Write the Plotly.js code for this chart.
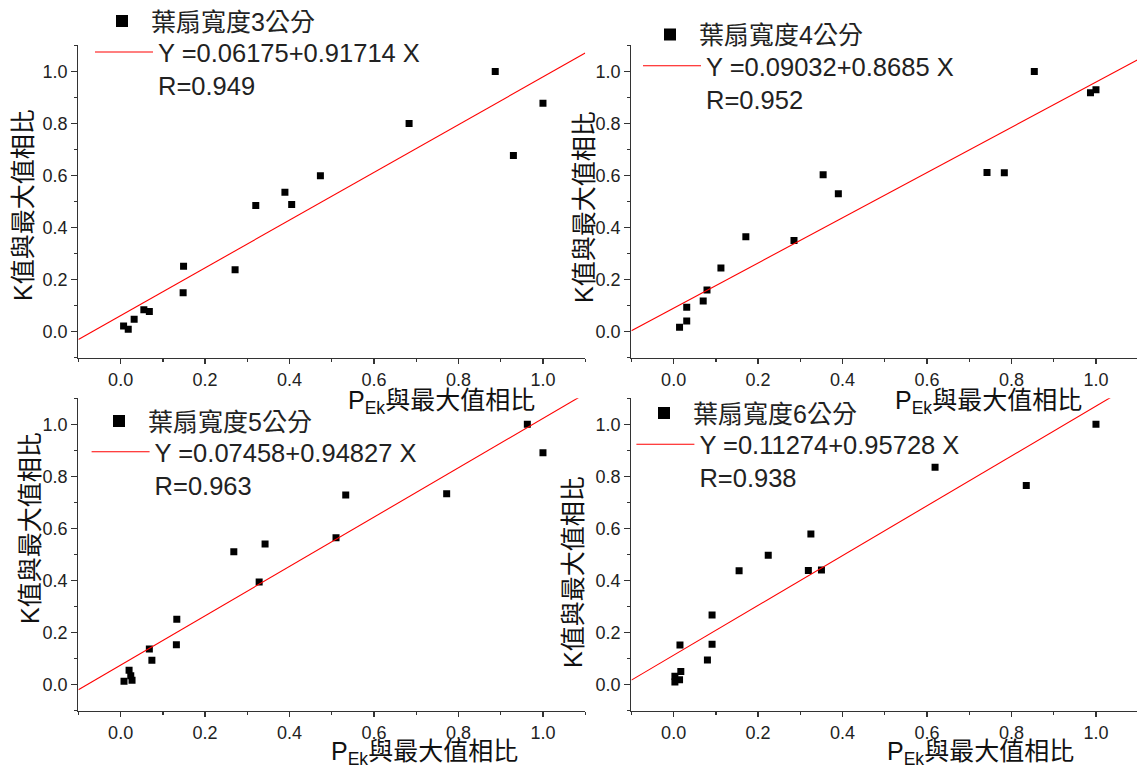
<!DOCTYPE html>
<html>
<head>
<meta charset="utf-8">
<script src="https://cdn.plot.ly/plotly-3.0.1.min.js"></script>
<style>html,body{margin:0;padding:0;background:#fff;overflow:hidden}#chart{width:1137px;height:773px}</style>
</head>
<body>
<div id="chart"></div>
<script>
// ---- data ----
const seriesNames = ['葉扇寬度3公分', '葉扇寬度4公分', '葉扇寬度5公分', '葉扇寬度6公分'];
const fitIntercepts = [0.06175, 0.09032, 0.07458, 0.11274];
const fitSlopes = [0.91714, 0.8685, 0.94827, 0.95728];
const fitR = [0.949, 0.952, 0.963, 0.938];

const w3X = [0.007, 0.018, 0.032, 0.055, 0.068, 0.148, 0.149, 0.271, 0.320, 0.389, 0.405, 0.473, 0.683, 0.887, 0.930, 1.000];
const w3Y = [0.022, 0.009, 0.048, 0.084, 0.078, 0.150, 0.251, 0.238, 0.485, 0.536, 0.489, 0.599, 0.800, 1.000, 0.677, 0.878];

const w4X = [0.014, 0.031, 0.031, 0.070, 0.079, 0.112, 0.171, 0.285, 0.354, 0.390, 0.742, 0.783, 0.854, 0.987, 1.000];
const w4Y = [0.017, 0.041, 0.094, 0.118, 0.160, 0.245, 0.365, 0.350, 0.603, 0.530, 0.612, 0.611, 1.000, 0.918, 0.930];

const w5X = [0.008, 0.027, 0.024, 0.020, 0.068, 0.074, 0.132, 0.133, 0.268, 0.328, 0.342, 0.510, 0.533, 0.772, 0.963, 1.000];
const w5Y = [0.013, 0.017, 0.034, 0.055, 0.137, 0.093, 0.153, 0.251, 0.510, 0.394, 0.540, 0.564, 0.728, 0.733, 1.000, 0.891];

const w6X = [0.003, 0.003, 0.014, 0.017, 0.015, 0.080, 0.091, 0.091, 0.155, 0.224, 0.319, 0.325, 0.350, 0.619, 0.835, 1.000];
const w6Y = [0.010, 0.032, 0.019, 0.050, 0.152, 0.094, 0.155, 0.267, 0.437, 0.497, 0.438, 0.579, 0.440, 0.835, 0.765, 1.000];

const fitXRange = [-0.1, 1.1];
const yTitle = 'K值與最大值相比';
const xTitle = 'P<sub>Ek</sub>與最大值相比';

// ---- layout helpers ----
const W = 1137, H = 773;
const FONT = '"Liberation Sans", Arial, "Noto Sans CJK TC", sans-serif';
const AXC = '#333';

const allX = [w3X, w4X, w5X, w6X];
const allY = [w3Y, w4Y, w5Y, w6Y];

const px = v => v / W;
const py = v => 1 - v / H;

function xAxis(d0, d1, r1, anchor) {
  return {
    domain: [px(d0), px(d1)], range: [-0.1, r1], anchor: anchor,
    showline: true, linecolor: AXC, linewidth: 1.3,
    ticks: 'outside', ticklen: 5, tickwidth: 1.3, tickcolor: AXC,
    tick0: 0, dtick: 0.2, tickformat: '.1f',
    minor: {dtick: 0.1, tick0: 0, ticks: 'outside', ticklen: 3, tickwidth: 1.3, tickcolor: AXC, showgrid: false},
    showgrid: false, zeroline: false, fixedrange: true,
    tickfont: {family: FONT, size: 18, color: '#222'}
  };
}
function yAxis(top, bottom, anchor) {
  return {
    domain: [py(bottom), py(top)], range: [-0.1, 1.1], anchor: anchor,
    showline: true, linecolor: AXC, linewidth: 1.3,
    ticks: 'outside', ticklen: 6, tickwidth: 1.3, tickcolor: AXC,
    tick0: 0, dtick: 0.2, tickformat: '.1f',
    minor: {dtick: 0.1, tick0: 0, ticks: 'outside', ticklen: 3, tickwidth: 1.3, tickcolor: AXC, showgrid: false},
    showgrid: false, zeroline: false, fixedrange: true,
    tickfont: {family: FONT, size: 18, color: '#222'}
  };
}
// the symbol sits at the centre of the first text line: 5 + (1.3*fs*lines + 3)/2 - 1.3*fs*(lines-1)/2 below the top
function legendBox(left, firstLineCentre, itemW, sizing, fs, lines) {
  const lh = 1.3 * fs;
  const off = 5 + (lh * lines + 3) / 2 - lh * (lines - 1) / 2;
  return {
    x: px(left), y: py(firstLineCentre - off), xanchor: 'left', yanchor: 'top',
    bgcolor: 'rgba(0,0,0,0)', borderwidth: 0,
    font: {family: FONT, size: fs, color: '#222'},
    itemsizing: sizing, itemwidth: itemW, valign: 'top', tracegroupgap: 0,
    itemclick: false, itemdoubleclick: false
  };
}

const axisIds = [['x', 'y'], ['x2', 'y2'], ['x3', 'y3'], ['x4', 'y4']];

const traces = [];
for (let i = 0; i < 4; i++) {
  traces.push({
    type: 'scatter', mode: 'markers', x: allX[i], y: allY[i],
    xaxis: axisIds[i][0], yaxis: axisIds[i][1], legend: 'legend' + (i === 0 ? '' : 2 * i + 1),
    name: seriesNames[i],
    marker: {symbol: 'square', size: 7, color: '#000', line: {width: 0}},
    hoverinfo: 'skip'
  });
  traces.push({
    type: 'scatter', mode: 'lines', x: fitXRange,
    y: fitXRange.map(v => fitIntercepts[i] + fitSlopes[i] * v),
    xaxis: axisIds[i][0], yaxis: axisIds[i][1], legend: 'legend' + (2 * i + 2),
    name: 'Y =' + fitIntercepts[i] + '+' + fitSlopes[i] + ' X<br>R=' + fitR[i],
    line: {color: '#ff0000', width: 1.1},
    hoverinfo: 'skip'
  });
}

const L1 = 78.4, R1 = 585.2, L2 = 631.4, R2 = 1137;
const T1 = 45.4, B1 = 357.7, T2 = 398.3, B2 = 710.6;
const rightRange = -0.1 + 1.2 * (R2 - L2) / (R1 - L1);

function yTitleAnn(cx, cy) {
  return {text: yTitle, textangle: -90, x: px(cx), y: py(cy), xref: 'paper', yref: 'paper',
    xanchor: 'center', yanchor: 'middle', showarrow: false, font: {family: FONT, size: 25, color: '#111'}};
}
function xTitleAnn(lx, cy) {
  return {text: xTitle, x: px(lx), y: py(cy), xref: 'paper', yref: 'paper',
    xanchor: 'left', yanchor: 'middle', showarrow: false, font: {family: FONT, size: 25, color: '#111'}};
}

const layout = {
  width: W, height: H,
  margin: {l: 0, r: 0, t: 0, b: 0, pad: 0, autoexpand: false},
  paper_bgcolor: '#fff', plot_bgcolor: 'rgba(0,0,0,0)',
  showlegend: true, hovermode: false,
  font: {family: FONT, color: '#222'},
  xaxis: xAxis(L1, R1, 1.1, 'y'),
  yaxis: yAxis(T1, B1, 'x'),
  xaxis2: xAxis(L2, R2, rightRange, 'y2'),
  yaxis2: yAxis(T1, B1, 'x2'),
  xaxis3: xAxis(L1, R1, 1.1, 'y3'),
  yaxis3: yAxis(T2, B2, 'x3'),
  xaxis4: xAxis(L2, R2, rightRange, 'y4'),
  yaxis4: yAxis(T2, B2, 'x4'),
  // marker entries (constant symbol size) and fit-line entries (true line width)
  legend:  legendBox(93, 21, 48, 'constant', 25, 1),
  legend2: legendBox(90, 52, 58, 'trace', 25.5, 2),
  legend3: legendBox(641, 34.5, 48, 'constant', 25, 1),
  legend4: legendBox(638, 65.7, 58, 'trace', 25.5, 2),
  legend5: legendBox(90, 421, 48, 'constant', 25, 1),
  legend6: legendBox(86.6, 451.7, 58, 'trace', 25.5, 2),
  legend7: legendBox(635, 413, 48, 'constant', 25, 1),
  legend8: legendBox(631.4, 444.3, 58, 'trace', 25.5, 2),
  annotations: [
    yTitleAnn(23, 205), yTitleAnn(584, 207), yTitleAnn(30, 528), yTitleAnn(573, 572),
    xTitleAnn(346, 402), xTitleAnn(893, 402), xTitleAnn(329, 753), xTitleAnn(885, 753)
  ]
};

Plotly.newPlot('chart', traces, layout, {staticPlot: true, displayModeBar: false});
</script>
</body>
</html>
